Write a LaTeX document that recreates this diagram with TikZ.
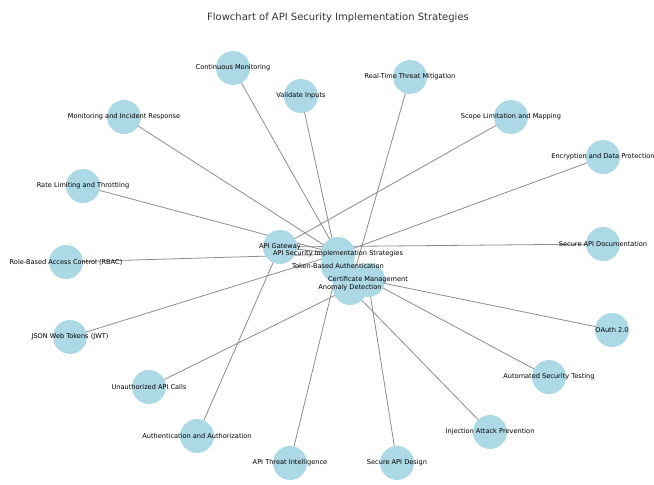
\documentclass[tikz,border=0pt]{standalone}
\usepackage{fontspec}
\setmainfont{DejaVu Sans}
\definecolor{nodeblue}{RGB}{173,216,230}
\definecolor{edgegray}{RGB}{140,140,140}
\begin{document}
\begin{tikzpicture}[x=1pt,y=-1pt,
  nd/.style={circle,fill=nodeblue,draw=none,minimum size=34pt,inner sep=0pt},
  lbl/.style={font=\fontsize{6.6}{7}\selectfont,text=black,inner sep=0pt},
  ed/.style={draw=edgegray,line width=0.8pt}]
\useasboundingbox (0,0) rectangle (654,485);
\node[font=\fontsize{10}{12}\selectfont,text=black!80] (title) at (338,18) {Flowchart of API Security Implementation Strategies};
% coordinates of nodes
\coordinate (cm) at (233,68);
\coordinate (mir) at (124,117);
\coordinate (rl) at (83,186);
\coordinate (rbac) at (66,262);
\coordinate (jwt) at (70,337);
\coordinate (ua) at (149,387);
\coordinate (aa) at (197,436);
\coordinate (ti) at (290,463);
\coordinate (sd) at (397,463);
\coordinate (ip) at (490,432);
\coordinate (ast) at (549,377);
\coordinate (oa) at (612,330);
\coordinate (doc) at (603,244);
\coordinate (enc) at (603,157);
\coordinate (scope) at (511,117);
\coordinate (rt) at (410,77);
\coordinate (vi) at (301,96);
\coordinate (gw) at (280,247);
\coordinate (root) at (338,254);
\coordinate (tok) at (338,266);
\coordinate (cert) at (368,280);
\coordinate (an) at (350,288);
% edges
\foreach \a/\b in {cm/root,mir/root,rl/root,rbac/root,jwt/root,ua/an,aa/gw,ti/tok,sd/cert,ip/an,ast/cert,oa/cert,doc/gw,enc/root,scope/gw,rt/an,vi/tok,root/gw,root/tok,root/cert,tok/an}
  \draw[ed] (\a) -- (\b);
% nodes
\foreach \n in {cm,mir,rl,rbac,jwt,ua,aa,ti,sd,ip,ast,oa,doc,enc,scope,rt,vi,gw,root,tok,cert,an}
  \node[nd] (n\n) at (\n) {};
% labels
\node[lbl] (l1) at (cm) {Continuous Monitoring};
\node[lbl] (l2) at (mir) {Monitoring and Incident Response};
\node[lbl] (l3) at (rl) {Rate Limiting and Throttling};
\node[lbl] (l4) at (rbac) {Role-Based Access Control (RBAC)};
\node[lbl] (l5) at (jwt) {JSON Web Tokens (JWT)};
\node[lbl] (l6) at (ua) {Unauthorized API Calls};
\node[lbl] (l7) at (aa) {Authentication and Authorization};
\node[lbl] (l8) at (ti) {API Threat Intelligence};
\node[lbl] (l9) at (sd) {Secure API Design};
\node[lbl] (l10) at (ip) {Injection Attack Prevention};
\node[lbl] (l11) at (ast) {Automated Security Testing};
\node[lbl] (l12) at (oa) {OAuth 2.0};
\node[lbl] (l13) at (doc) {Secure API Documentation};
\node[lbl] (l14) at (enc) {Encryption and Data Protection};
\node[lbl] (l15) at (scope) {Scope Limitation and Mapping};
\node[lbl] (l16) at (rt) {Real-Time Threat Mitigation};
\node[lbl] (l17) at (vi) {Validate Inputs};
\node[lbl] (l18) at (gw) {API Gateway};
\node[lbl] (l19) at (root) {API Security Implementation Strategies};
\node[lbl] (l20) at (tok) {Token-Based Authentication};
\node[lbl] (l21) at (cert) {Certificate Management};
\node[lbl] (l22) at (an) {Anomaly Detection};
\end{tikzpicture}
\end{document}
